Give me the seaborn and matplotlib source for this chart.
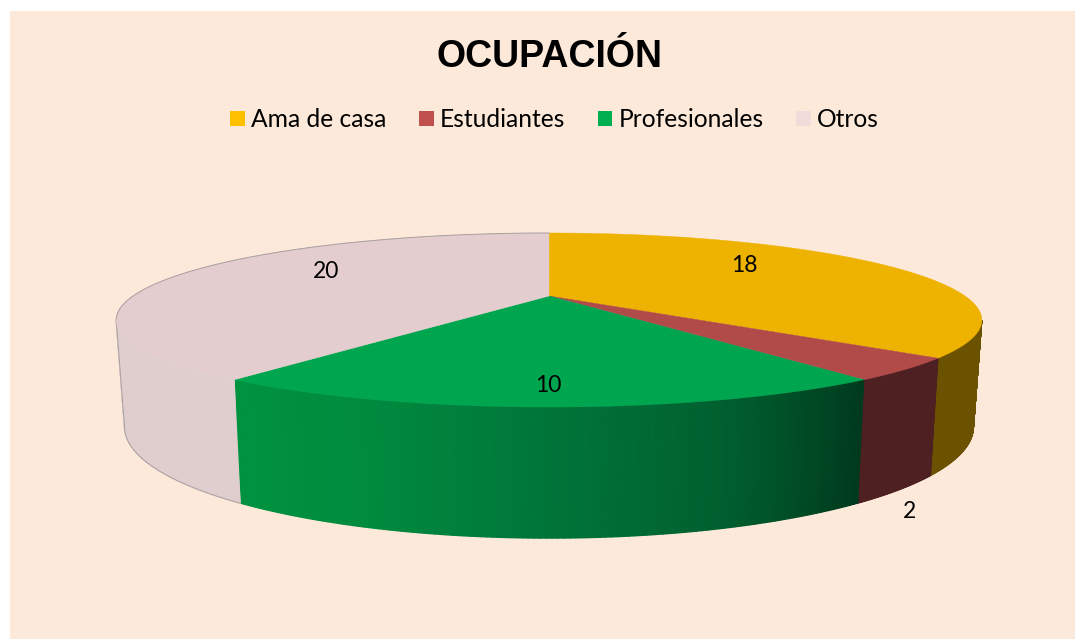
import numpy as np
import seaborn as sns
import matplotlib.pyplot as plt
from matplotlib.patches import Patch

# data
categories = ["Ama de casa", "Estudiantes", "Profesionales", "Otros"]
values = [18, 2, 10, 20]

legend_colors = ["#FFC000", "#C0504D", "#00B050", "#F2DCDB"]
top_colors = ["#EEB200", "#B14B49", "#00A54F", "#E3CDCE"]
# rim shades run clockwise, so the dark end of the green comes first
side_shades = [
    ["#6B5200", "#6B5200"],
    ["#4F2021", "#4F2021"],
    ["#003A1E", "#00602F", "#00753A", "#008A3E", "#00933F"],
    ["#E0CDCE", "#E0CDCE"],
]

sns.set_theme(style="white")
plt.rcParams["font.family"] = ["Lato", "DejaVu Sans"]

# perspective of the tilted disc, in picture pixels
k = 0.276
cx = 549
top_y0, top_a, top_b = 296, 80.4, 416
bot_y0, bot_a, bot_b = 396, 103, 408


def project(theta, y0, a, b):
    u = np.sin(theta)
    v = -np.cos(theta)
    return cx + b * u / (1 - k * v), y0 + a * v / (1 - k * v)


fig = plt.figure(figsize=(10.75, 6.39), dpi=100, facecolor="white")
ax = fig.add_axes([10 / 1075, 0, 1065 / 1075, 628 / 639], facecolor="#FDE9D9")
for s in ax.spines.values():
    s.set_visible(False)

edges = np.radians(np.concatenate([[0], np.cumsum(values)]) / sum(values) * 360)
# only the part of the rim facing the viewer is drawn
vis_lo, vis_hi = np.pi - np.arccos(k), np.pi + np.arccos(k)

for i in range(len(values)):
    lo, hi = max(edges[i], vis_lo), min(edges[i + 1], vis_hi)
    if hi <= lo:
        continue
    th = np.linspace(lo, hi, 120)
    tx, ty = project(th, top_y0, top_a, top_b)
    bx, by = project(th, bot_y0, bot_a, bot_b)
    shade = np.linspace(0, 1, th.size)
    # gouraud mesh: smooth gradient along the rim with no seams
    ax.pcolormesh(np.vstack([tx, bx]), np.vstack([ty, by]), np.vstack([shade, shade]),
                  cmap=sns.blend_palette(side_shades[i], as_cmap=True),
                  vmin=0, vmax=1, shading="gouraud", zorder=2)
    if i == 3:
        ax.plot(bx, by, color="#A8A0A0", lw=0.7, zorder=3)
        ax.plot([bx[-1], tx[-1]], [by[-1], ty[-1]], color="#A8A0A0", lw=0.7, zorder=3)

for i in range(len(values)):
    th = np.linspace(edges[i], edges[i + 1], 200)
    x, y = project(th, top_y0, top_a, top_b)
    ax.fill(np.r_[cx, x], np.r_[top_y0, y], color=top_colors[i], lw=0.3, zorder=4)
    if i == 3:
        # grey outline only on the far side of the disc
        far = th >= vis_hi
        ax.plot(x[far], y[far], color="#A8A0A0", lw=0.7, zorder=5)

ax.set_xlim(10, 1075)
ax.set_ylim(639, 11)
ax.set_xticks([])
ax.set_yticks([])

# value labels
label_xy = [(744, 266), (909, 512), (548, 385), (326, 271)]
for val, (lx, ly) in zip(values, label_xy):
    ax.text(lx, ly, str(val), ha="center", va="center", fontsize=16.5,
            color="black", zorder=6)

ax.text(550, 57, "OCUPACIÓN", ha="center", va="center", fontsize=27,
        fontweight="bold", family="Liberation Sans", color="black")

handles = [Patch(facecolor=c, edgecolor="none") for c in legend_colors]
ax.legend(handles, categories, loc="center", bbox_to_anchor=(554.5, 119.5),
          bbox_transform=ax.transData, ncol=4, frameon=False, fontsize=17.7,
          handlelength=0.6, handleheight=0.6, handletextpad=0.24,
          columnspacing=1.33, borderpad=0, labelcolor="black")

fig.savefig("out.png", dpi=100, facecolor="white")
